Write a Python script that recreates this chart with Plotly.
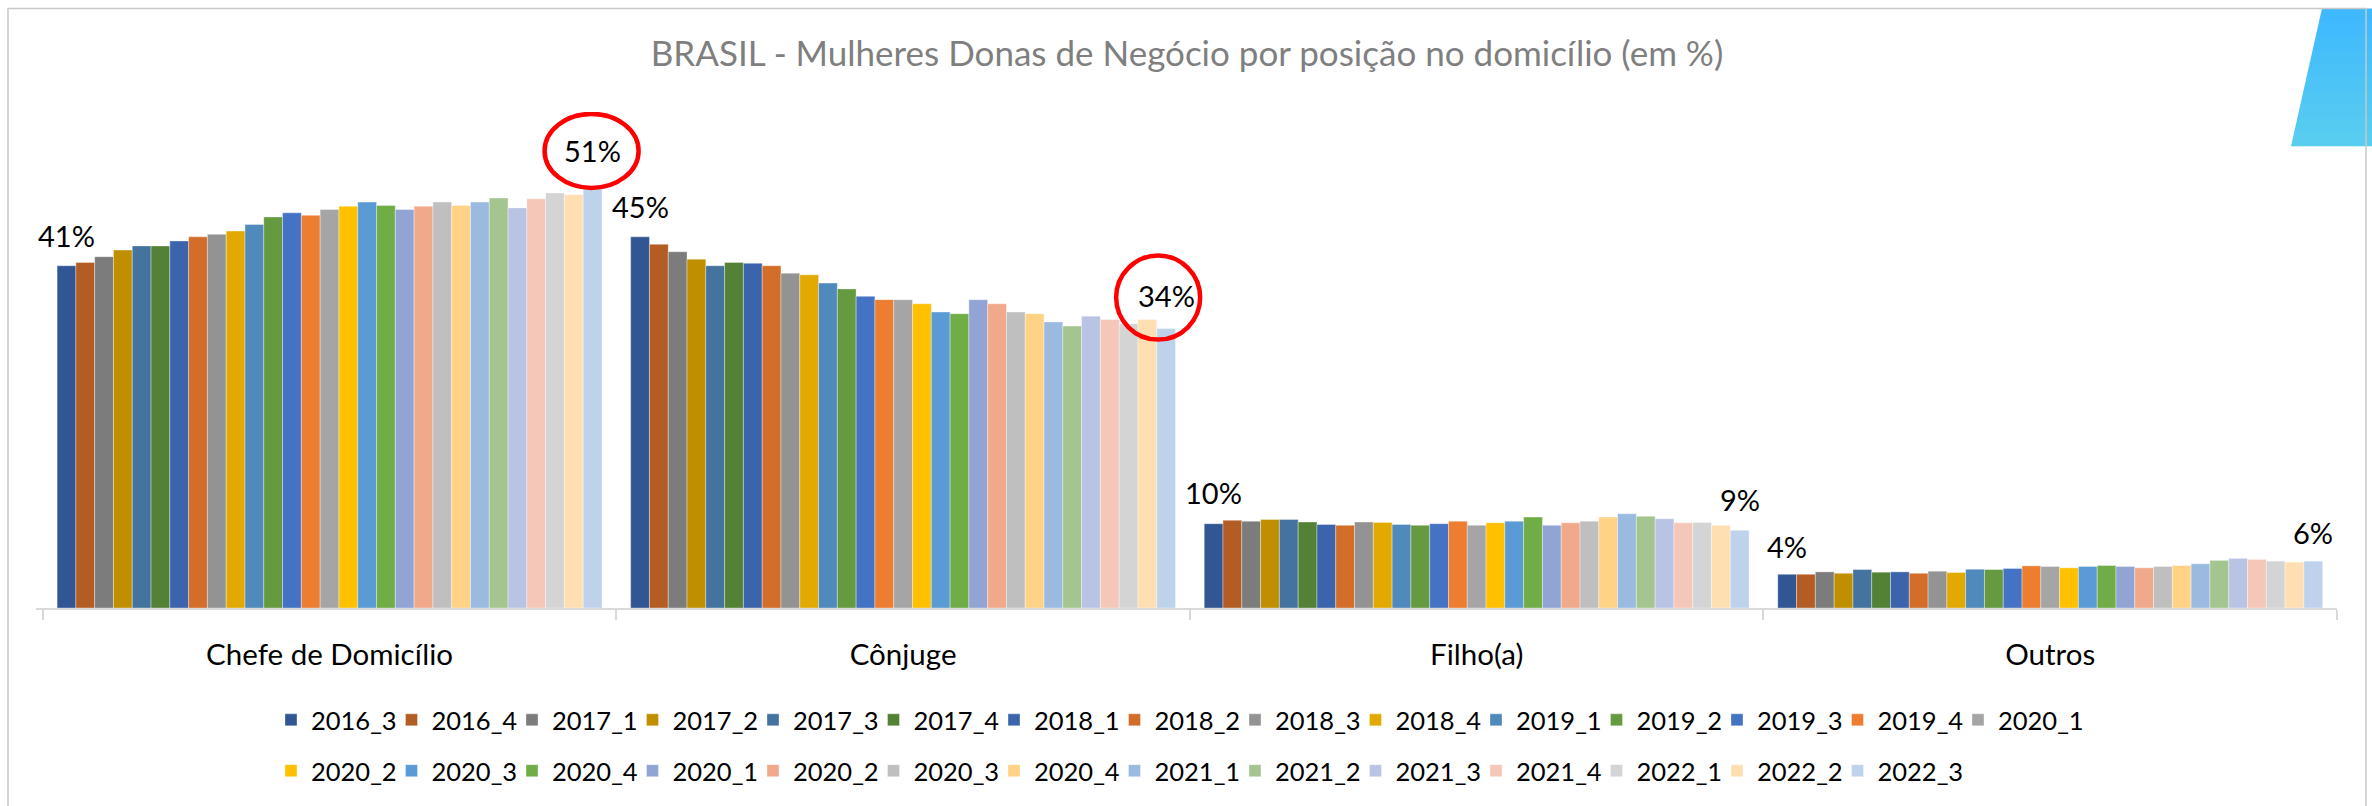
import plotly.graph_objects as go

# Categories (household position) and quarterly series
categories = ["Chefe de Domicílio", "Cônjuge", "Filho(a)", "Outros"]

periods = [
    "2016_3", "2016_4", "2017_1", "2017_2", "2017_3", "2017_4",
    "2018_1", "2018_2", "2018_3", "2018_4", "2019_1", "2019_2",
    "2019_3", "2019_4", "2020_1", "2020_2", "2020_3", "2020_4",
    "2020_1", "2020_2", "2020_3", "2020_4", "2021_1", "2021_2",
    "2021_3", "2021_4", "2022_1", "2022_2", "2022_3",
]

# Share (%) of women business owners by position, one list per category
chefe = [41.4, 41.8, 42.5, 43.3, 43.8, 43.8, 44.4, 44.9, 45.2, 45.6,
         46.4, 47.3, 47.8, 47.5, 48.2, 48.6, 49.1, 48.7, 48.2, 48.6,
         49.1, 48.7, 49.1, 49.6, 48.4, 49.5, 50.2, 50.0, 50.7]
conjuge = [44.9, 44.0, 43.1, 42.2, 41.4, 41.8, 41.7, 41.4, 40.5, 40.3,
           39.3, 38.6, 37.7, 37.3, 37.3, 36.8, 35.8, 35.6, 37.3, 36.8,
           35.8, 35.6, 34.6, 34.1, 35.3, 34.9, 34.4, 34.9, 33.8]
filho = [10.2, 10.6, 10.5, 10.7, 10.7, 10.4, 10.1, 10.0, 10.4, 10.35,
         10.1, 10.0, 10.2, 10.5, 10.0, 10.3, 10.5, 11.0, 10.0, 10.3,
         10.5, 11.0, 11.4, 11.1, 10.8, 10.3, 10.35, 10.0, 9.4]
outros = [4.08, 4.08, 4.37, 4.2, 4.65, 4.33, 4.37, 4.2, 4.45, 4.29,
          4.69, 4.65, 4.78, 5.1, 5.02, 4.86, 5.02, 5.14, 5.02, 4.86,
          5.02, 5.14, 5.35, 5.76, 6.0, 5.88, 5.67, 5.55, 5.67]

colors = [
    "#325594", "#B35D24", "#7C7C7C", "#BF8F00", "#43739E", "#538135",
    "#3C64AD", "#D26D2A", "#939393", "#E2AA00", "#5089BC", "#659A41",
    "#4472C4", "#ED7D31", "#A5A5A5", "#FFC000", "#5B9BD5", "#70AD47",
    "#91A4D4", "#F1A98B", "#BFBFBF", "#FFD285", "#9BBAE0", "#A4C590",
    "#B9C3E3", "#F4C7B8", "#D4D4D4", "#FFDFB2", "#BED3EB",
]

FONT = "Lato, 'Open Sans', sans-serif"
W, H = 2372, 806
ML, MR, MT, MB = 36, 35, 112, 186
PW, PH = W - ML - MR, H - MT - MB
BARGAP = 0.05
ROW1 = 15  # entries in the first legend row

def px_x(px):
    return (px - ML) / PW

def px_y(py):
    return (H - MB - py) / PH

series = list(zip(*[chefe, conjuge, filho, outros]))

fig = go.Figure()
for j, (name, col) in enumerate(zip(periods, colors)):
    fig.add_trace(go.Bar(
        x=categories, y=list(series[j]), name=name,
        marker=dict(color=col, line=dict(color="rgba(255,255,255,0.35)", width=1)),
        legend="legend" if j < ROW1 else "legend2",
        hoverinfo="skip",
    ))

# blank trailing slot in each legend row so the last label is not cut off
for lg in ("legend", "legend2"):
    fig.add_trace(go.Scatter(
        x=[None], y=[None], name="", mode="markers",
        marker=dict(color="rgba(0,0,0,0)", size=1), legend=lg,
        hoverinfo="skip",
    ))

n = len(periods)

def bar_pos(cat_idx, ser_idx):
    # centre of a bar inside its category group on the category axis
    w = (1 - BARGAP) / n
    return cat_idx - (1 - BARGAP) / 2 + (ser_idx + 0.5) * w

values = [chefe, conjuge, filho, outros]
annotations = []
shapes = []
label_shift = {(0, 0): 30, (0, n - 1): 38, (1, 0): 30, (1, n - 1): 33,
               (2, 0): 31, (2, n - 1): 31, (3, 0): 28, (3, n - 1): 29}
for (ci, sj), dy in label_shift.items():
    v = values[ci][sj]
    annotations.append(dict(
        x=bar_pos(ci, sj), y=v, xref="x", yref="y", yshift=dy,
        text=f"{round(v)}%", showarrow=False,
        font=dict(family=FONT, size=29, color="#000000"),
    ))

# red rings around the latest Chefe and Cônjuge figures
for ci, dy, rx, ry, dx in [(0, 38, 47, 37, -1), (1, 31, 42, 42, -8)]:
    v = values[ci][n - 1]
    shapes.append(dict(
        type="circle", xref="x", yref="y", xsizemode="pixel", ysizemode="pixel",
        xanchor=bar_pos(ci, n - 1), yanchor=v,
        x0=dx - rx, x1=dx + rx, y0=dy - ry, y1=dy + ry,
        line=dict(color="#FF0000", width=4.5), layer="above",
    ))

# decorative blue tab in the top-right corner, shaded top to bottom
top_col = (0x3D, 0xB8, 0xFF)
bot_col = (0x5A, 0xCE, 0xEF)
y_top, y_bot = 6, 147
x_left_top, x_left_bot, x_right = 2322, 2291, 2372
bands = 10
for k in range(bands):
    ya = y_top + (y_bot - y_top) * k / bands
    yb = y_top + (y_bot - y_top) * (k + 1) / bands + 0.8
    yb = min(yb, y_bot)
    xa = x_left_top + (x_left_bot - x_left_top) * (ya - y_top) / (y_bot - y_top)
    xb = x_left_top + (x_left_bot - x_left_top) * (yb - y_top) / (y_bot - y_top)
    t = (k + 0.5) / bands
    c = tuple(round(a + (b - a) * t) for a, b in zip(top_col, bot_col))
    path = (f"M{px_x(xa)},{px_y(ya)} L{px_x(x_right + 5)},{px_y(ya)} "
            f"L{px_x(x_right + 5)},{px_y(yb)} L{px_x(xb)},{px_y(yb)} Z")
    shapes.append(dict(type="path", xref="paper", yref="paper", path=path,
                       fillcolor="rgb(%d,%d,%d)" % c, line=dict(width=0), layer="above"))

# chart frame
shapes.append(dict(type="rect", xref="paper", yref="paper",
                   x0=px_x(8), x1=px_x(2366), y0=px_y(830), y1=px_y(6),
                   line=dict(color="#C8C8C8", width=1.5), layer="above"))

legend_common = dict(
    orientation="h", x=px_x(271), xanchor="left", yanchor="middle",
    font=dict(family=FONT, size=25.5, color="#000000"),
    entrywidth=75.5, itemwidth=30, bgcolor="rgba(0,0,0,0)", traceorder="normal",
)

fig.update_layout(
    width=W, height=H,
    margin=dict(l=ML, r=MR, t=MT, b=MB, pad=0),
    paper_bgcolor="white", plot_bgcolor="white",
    barmode="group", bargap=BARGAP, bargroupgap=0,
    title=dict(
        text="BRASIL - Mulheres Donas de Negócio por posição no domicílio (em %)",
        x=1187 / W, xanchor="center",
        y=1 - 54 / H, yanchor="middle",
        font=dict(family=FONT, size=35, color="#7F7F7F"),
    ),
    xaxis=dict(
        type="category", showline=True, linecolor="#D9D9D9", linewidth=2,
        ticks="outside", tickson="boundaries", ticklen=10, tickwidth=2,
        tickcolor="#D9D9D9", showgrid=False, zeroline=False,
        tickfont=dict(family=FONT, size=29.5, color="#000000"),
        ticklabelstandoff=20,
        fixedrange=True,
    ),
    yaxis=dict(range=[0, 60], visible=False, showgrid=False, fixedrange=True),
    legend=dict(legend_common, y=px_y(735)),
    legend2=dict(legend_common, y=px_y(787)),
    annotations=annotations,
    shapes=shapes,
    showlegend=True,
)

fig.write_html("out.html")
